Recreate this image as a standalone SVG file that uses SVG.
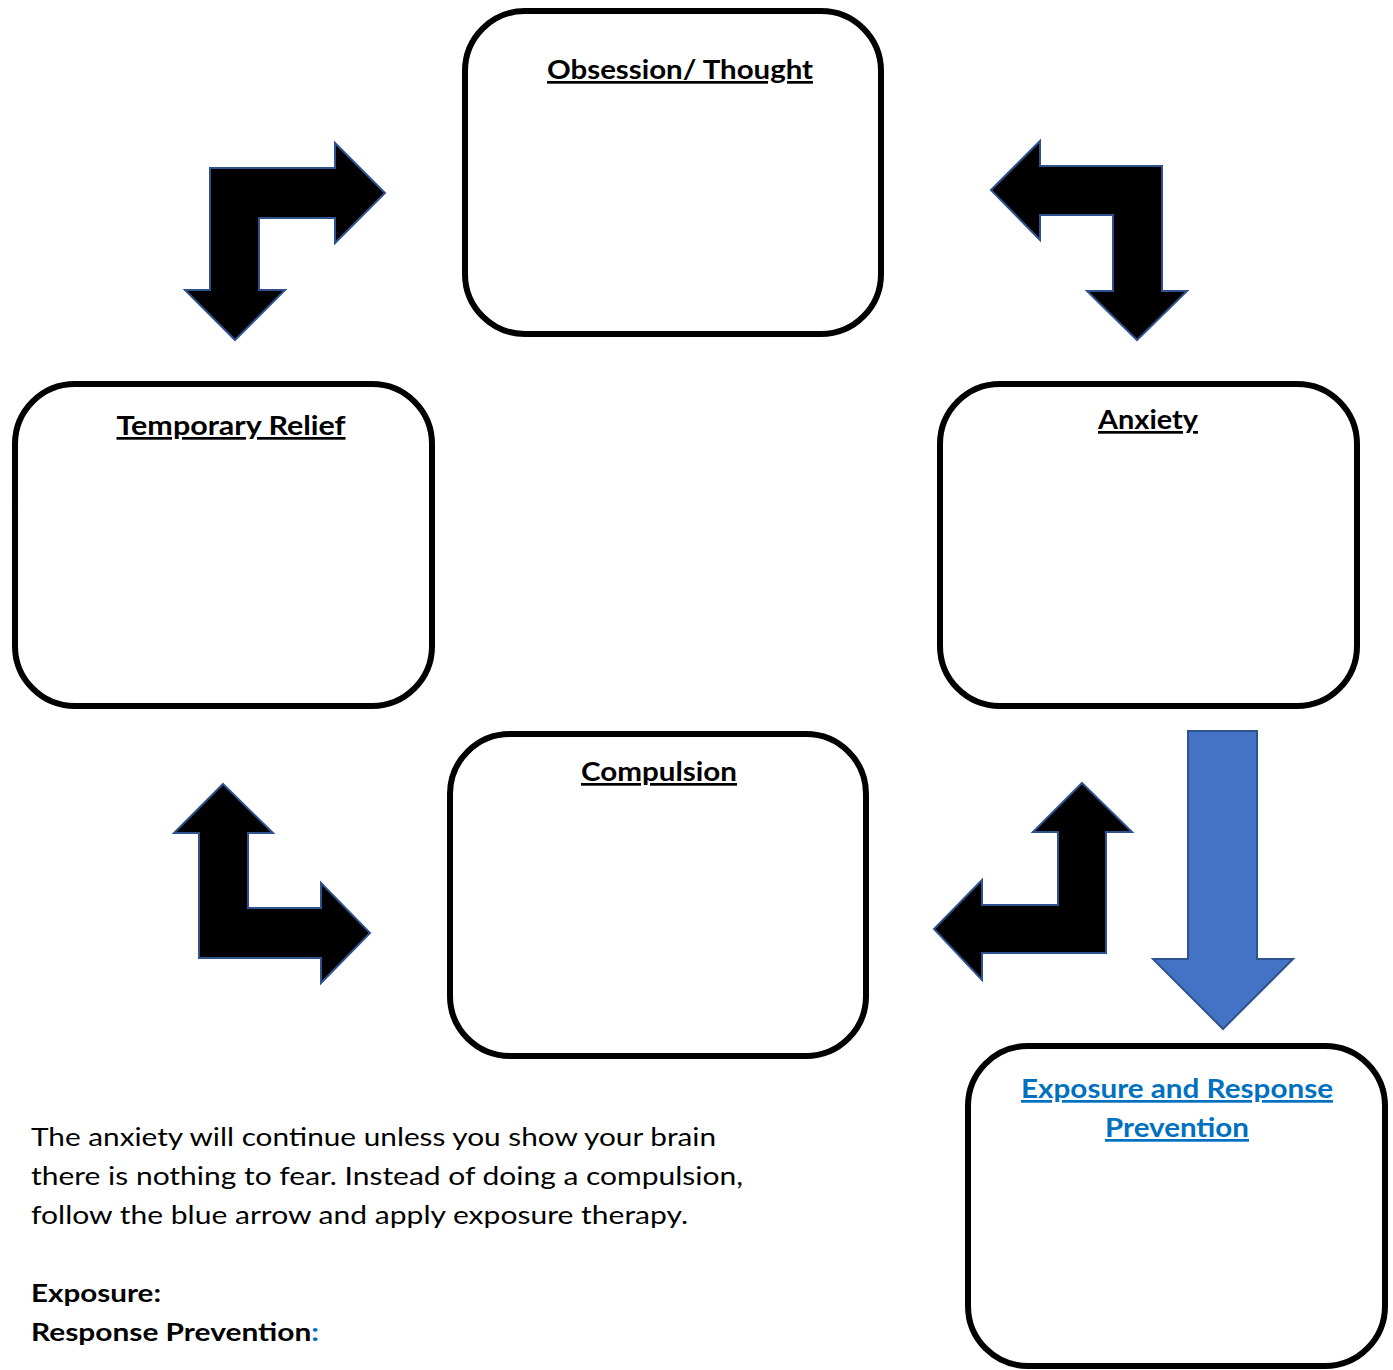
<svg xmlns="http://www.w3.org/2000/svg" width="1393" height="1370" viewBox="0 0 1393 1370">
<style>
.box{fill:#fff;stroke:#000;stroke-width:6}
.arr{fill:#000;stroke:#2F528F;stroke-width:2;stroke-linejoin:miter}
.blue{fill:#4472C4;stroke:#2F528F;stroke-width:2}
.t{font-family:Lato,"Open Sans","Liberation Sans",sans-serif;font-weight:bold;font-size:27px;fill:#000;text-anchor:middle;text-decoration:underline}
.tb{fill:#0070C0}
.p{font-family:Lato,"Open Sans","Liberation Sans",sans-serif;font-size:25px;fill:#000}
.pb{font-weight:bold}
</style>
<rect width="1393" height="1370" fill="#fff"/>
<g id="connectors">
<polygon class="arr" points="210,168 335,168 335,143 385,193 335,243 335,218 259,218 259,290 285,290 235,340 185,290 210,290"/>
<polygon class="arr" points="991,190 1040,141 1040,166 1162,166 1162,291 1187,291 1137,340 1087,291 1113,291 1113,215 1040,215 1040,240"/>
<polygon class="arr" points="223,784 273,833 248,833 248,908 321,908 321,883 370,933 321,983 321,958 199,958 199,833 174,833"/>
<polygon class="arr" points="1082,783 1132,832 1106,832 1106,953 982,953 982,980 934,929 982,880 982,905 1058,905 1058,832 1033,832"/>
<polygon class="blue" points="1188,731 1257,731 1257,959 1293,959 1223,1029 1153,959 1188,959"/>
</g>
<g id="obsession">
<rect class="box" x="465" y="11" width="416" height="323" rx="60"/>
<text class="t" x="680" y="79" textLength="266" lengthAdjust="spacingAndGlyphs">Obsession/ Thought</text>
</g>
<g id="relief">
<rect class="box" x="15" y="384" width="417" height="322" rx="60"/>
<text class="t" x="231" y="435" textLength="229" lengthAdjust="spacingAndGlyphs">Temporary Relief</text>
</g>
<g id="anxiety">
<rect class="box" x="940" y="384" width="417" height="322" rx="60"/>
<text class="t" x="1148" y="429" textLength="100" lengthAdjust="spacingAndGlyphs">Anxiety</text>
</g>
<g id="compulsion">
<rect class="box" x="450" y="734" width="416" height="322" rx="60"/>
<text class="t" x="659" y="781" textLength="156" lengthAdjust="spacingAndGlyphs">Compulsion</text>
</g>
<g id="erp">
<rect class="box" x="968" y="1046" width="417" height="320" rx="60"/>
<text class="t tb" x="1177" y="1098" textLength="312" lengthAdjust="spacingAndGlyphs">Exposure and Response</text>
<text class="t tb" x="1177" y="1137" textLength="144" lengthAdjust="spacingAndGlyphs">Prevention</text>
</g>
<g id="notes">
<text class="p" x="31" y="1146" textLength="685" lengthAdjust="spacingAndGlyphs">The anxiety will continue unless you show your brain</text>
<text class="p" x="31" y="1185" textLength="712" lengthAdjust="spacingAndGlyphs">there is nothing to fear. Instead of doing a compulsion,</text>
<text class="p" x="31" y="1224" textLength="657" lengthAdjust="spacingAndGlyphs">follow the blue arrow and apply exposure therapy.</text>
<text class="p pb" x="31" y="1302" textLength="130" lengthAdjust="spacingAndGlyphs">Exposure:</text>
<text class="p pb" x="31" y="1341" textLength="288" lengthAdjust="spacingAndGlyphs">Response Prevention<tspan fill="#0070C0">:</tspan></text>
</g>
</svg>
